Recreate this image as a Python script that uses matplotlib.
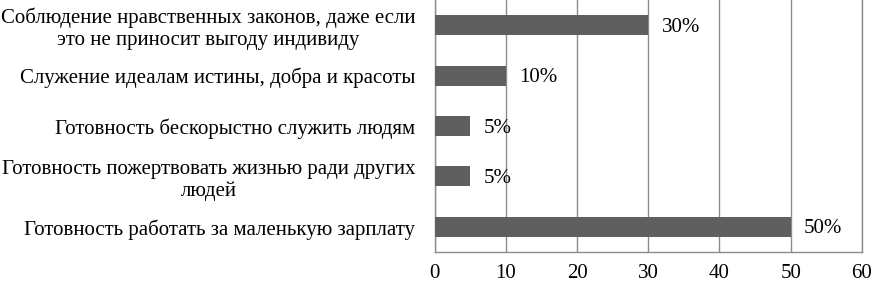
import matplotlib.pyplot as plt

categories = [
    "Готовность работать за маленькую зарплату",
    "Готовность пожертвовать жизнью ради других\nлюдей",
    "Готовность бескорыстно служить людям",
    "Служение идеалам истины, добра и красоты",
    "Соблюдение нравственных законов, даже если\nэто не приносит выгоду индивиду",
]
values = [50, 5, 5, 10, 30]
value_labels = ["50%", "5%", "5%", "10%", "30%"]
x_ticks = [0, 10, 20, 30, 40, 50, 60]

plt.rcParams["font.family"] = ["Liberation Serif", "DejaVu Serif"]
plt.rcParams["font.size"] = 15

fig = plt.figure(figsize=(8.72, 2.84), dpi=100)
ax = fig.add_axes([0.4983, 0.1127, 0.4902, 0.8873])

grid_color = "#8c8c8c"
ax.barh(range(len(values)), values, height=0.4, color="#5f5f5f", zorder=3)

for i, (v, lab) in enumerate(zip(values, value_labels)):
    ax.annotate(lab, (v, i), xytext=(9.5, -1.5), textcoords="offset points",
                va="center", ha="left", zorder=4)

ax.set_xlim(0, 60)
ax.set_ylim(-0.5, 4.5)
ax.set_xticks(x_ticks)
ax.set_yticks(range(len(categories)))
ax.set_yticklabels(categories, multialignment="center")
ax.tick_params(axis="both", length=0)
ax.tick_params(axis="x", pad=8.5)
ax.tick_params(axis="y", pad=14)
ax.xaxis.grid(True, color=grid_color, linewidth=1, zorder=0)

ax.spines["top"].set_visible(False)
for side in ["left", "bottom", "right"]:
    ax.spines[side].set_color(grid_color)
    ax.spines[side].set_linewidth(1)

fig.savefig("out.png", dpi=100)
